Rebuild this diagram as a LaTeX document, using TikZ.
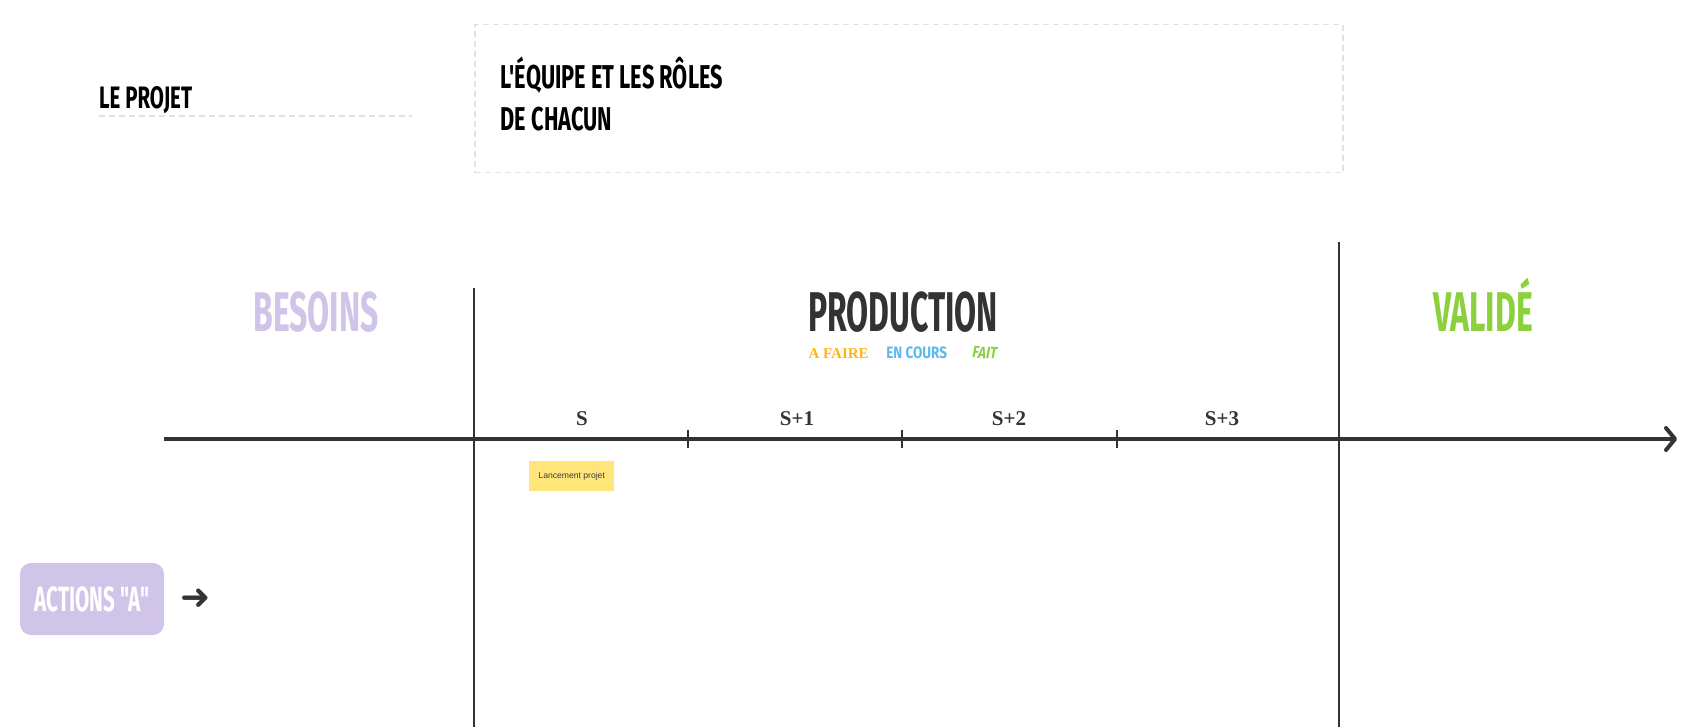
\documentclass[tikz,border=0pt]{standalone}
\usepackage{fontspec}
\usetikzlibrary{arrows.meta}
\newfontfamily\bebasH[FakeStretch=0.66]{Fira Sans}
\newfontfamily\bebas[FakeStretch=0.57]{Fira Sans}
\newfontfamily\bebasA[FakeStretch=0.59]{Fira Sans}
\newfontfamily\bebasL[FakeStretch=0.82]{Fira Sans}
\newfontfamily\symfont{DejaVu Sans}
\newfontfamily\notefont{Liberation Sans}
\newfontfamily\serifb{Liberation Serif}
\definecolor{dark}{HTML}{333333}
\definecolor{lav}{HTML}{D1C4E9}
\definecolor{vgreen}{HTML}{8CD03E}
\definecolor{vorange}{HTML}{FFB31A}
\definecolor{vblue}{HTML}{5DB8EC}
\definecolor{dashgray}{HTML}{E2E2E2}
\definecolor{notey}{HTML}{FFE57A}
\tikzset{
  txt/.style={inner sep=0pt, anchor=base},
  txtw/.style={inner sep=0pt, anchor=base west},
  big/.style={txt, font=\bebas\bfseries\fontsize{56}{60}\selectfont},
  legend/.style={txt, font=\bebasL\bfseries\fontsize{16.5}{20}\selectfont},
  week/.style={txt, font=\serifb\bfseries\fontsize{21}{24}\selectfont, text=dark},
  vline/.style={draw=dark, line width=1.8pt},
  tick/.style={draw=dark, line width=1.8pt},
  dashbox/.style={draw=dashgray, line width=1.5pt, dash pattern=on 6pt off 4pt},
}
\begin{document}
\begin{tikzpicture}[x=1pt,y=-1pt]
\useasboundingbox (0,0) rectangle (1688,727);

% top header
\node[txtw, font=\bebasH\bfseries\fontsize{31}{34}\selectfont] (projet) at (99,108.7) {LE PROJET};
\coordinate (ul1) at (99,116);
\coordinate (ul2) at (412,116);
\draw[dashbox] (ul1) -- (ul2);

\node[dashbox, minimum width=868pt, minimum height=148pt, anchor=north west, inner sep=0pt] (teambox) at (474,24) {};
\node[txtw, font=\bebasH\bfseries\fontsize{33}{38}\selectfont] (equipe) at (500.6,88.3) {L'ÉQUIPE ET LES RÔLES};
\node[txtw, font=\bebasH\bfseries\fontsize{33}{38}\selectfont] (chacun) at (500.6,131) {DE CHACUN};

% column titles
\node[big, text=lav] (besoins) at (316,331.6) {BESOINS};
\node[big, text=dark] (production) at (903,331.6) {PRODUCTION};
\node[big, text=vgreen] (valide) at (1483,331.6) {VALIDÉ};

\node[txt, font=\serifb\bfseries\fontsize{15}{18}\selectfont, text=vorange] (afaire) at (838.6,358.5) {A FAIRE};
\node[legend, text=vblue] (encours) at (916.7,358.5) {EN COURS};
\node[legend, text=vgreen, font=\bebasL\bfseries\itshape\fontsize{16.5}{20}\selectfont, rotate=-4] (fait) at (984.5,358.5) {FAIT};

% vertical separators
\coordinate (v1t) at (474,288);
\coordinate (v1b) at (474,727);
\coordinate (v2t) at (1339,242);
\coordinate (v2b) at (1339,727);
\draw[vline] (v1t) -- (v1b);
\draw[vline] (v2t) -- (v2b);

% timeline
\coordinate (axs) at (164,439);
\coordinate (axe) at (1677,439);
\draw[draw=dark, line width=4.2pt, -{Straight Barb[length=9pt,width=22pt,line width=4pt, line cap=round, line join=round]}] (axs) -- (axe);

\foreach \x/\n in {688/t1, 902/t2, 1117/t3}{
  \coordinate (\n a) at (\x,430);
  \coordinate (\n b) at (\x,448);
  \draw[tick] (\n a) -- (\n b);
}

\node[week] (s0) at (582,425) {S};
\node[week] (s1) at (797,425) {S+1};
\node[week] (s2) at (1009,425) {S+2};
\node[week] (s3) at (1222,425) {S+3};

% sticky note
\node[fill=notey, minimum width=85pt, minimum height=30pt, inner sep=0pt, anchor=north west,
      font=\notefont\fontsize{8.6}{10}\selectfont, text=dark!95] (note) at (529,461) {Lancement projet};

% actions
\node[fill=lav, rounded corners=11pt, minimum width=144pt, minimum height=72pt, inner sep=0pt,
      font=\bebasA\bfseries\fontsize{35}{38}\selectfont, text=white] (actions) at (92,599) {ACTIONS "A"};
\node[inner sep=0pt, font=\symfont\fontsize{36}{38}\selectfont, text=dark] (arr) at (196,599) {➜};
\end{tikzpicture}
\end{document}
